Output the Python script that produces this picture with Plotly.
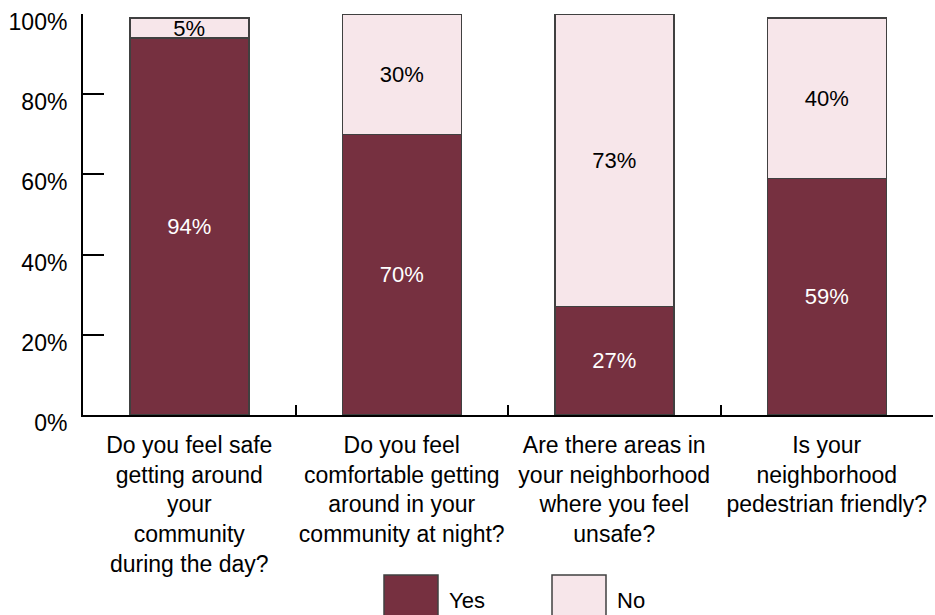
import plotly.graph_objects as go

categories = [
    "Do you feel safe<br>getting around<br>your<br>community<br>during the day?",
    "Do you feel<br>comfortable getting<br>around in your<br>community at night?",
    "Are there areas in<br>your neighborhood<br>where you feel<br>unsafe?",
    "Is your<br>neighborhood<br>pedestrian friendly?",
]
yes_values = [94, 70, 27, 59]
no_values = [5, 30, 73, 40]
series_names = ["Yes", "No"]
y_ticks = [0, 20, 40, 60, 80, 100]
y_tick_labels = [f"{v}%" for v in y_ticks]

YES_COLOR = "#763040"
NO_COLOR = "#F7E6EA"
EDGE = "#404040"
FONT = "Liberation Sans, Arial, sans-serif"
FS = 23

fig = go.Figure()
fig.add_trace(go.Bar(
    x=categories, y=yes_values, name=series_names[0],
    marker=dict(color=YES_COLOR, line=dict(color=EDGE, width=1.5)),
    width=0.56, text=[f"{v}%" for v in yes_values], texttemplate="%{text}",
    textposition="inside", insidetextanchor="middle",
    textfont=dict(color="white", size=22, family=FONT),
    showlegend=False, hoverinfo="skip",
))
fig.add_trace(go.Bar(
    x=categories, y=no_values, name=series_names[1],
    marker=dict(color=NO_COLOR, line=dict(color=EDGE, width=1.5)),
    width=0.56, text=[f"{v}%" for v in no_values], texttemplate="%{text}",
    textposition="inside", insidetextanchor="middle",
    textfont=dict(color="black", size=22, family=FONT),
    showlegend=False, hoverinfo="skip",
))

W, H = 935, 615
L, R, T, B = 83, 2, 14, 200
pw, ph = W - L - R, H - T - B


def px_x(x):
    return (x - L) / pw


def px_y(y):
    return (H - B - y) / ph


# manual legend (large swatches)
legend_items = [(series_names[0], YES_COLOR, 384, 438), (series_names[1], NO_COLOR, 552, 606)]
for name, col, x0, x1 in legend_items:
    fig.add_shape(type="rect", xref="paper", yref="paper",
                  x0=px_x(x0), x1=px_x(x1), y0=px_y(575), y1=px_y(628),
                  fillcolor=col, line=dict(color=EDGE, width=1.5))
    fig.add_annotation(xref="paper", yref="paper", x=px_x(x1 + 9), y=px_y(600),
                       text=name, showarrow=False, xanchor="left", yanchor="middle",
                       font=dict(size=22, color="black", family=FONT))

fig.update_layout(
    barmode="stack",
    width=W, height=H,
    margin=dict(l=L, r=R, t=T, b=B, autoexpand=False),
    plot_bgcolor="white", paper_bgcolor="white",
    font=dict(family=FONT, size=FS, color="black"),
    uniformtext=dict(minsize=22, mode="show"),
    bargap=0.44,
)
fig.update_yaxes(
    range=[0, 100], tickmode="array", tickvals=y_ticks, ticktext=y_tick_labels,
    ticks="inside", ticklen=21, tickwidth=2, tickcolor="black",
    showline=True, linewidth=2, linecolor="black",
    showgrid=False, zeroline=False, ticklabelstandoff=9, ticklabelshift=8,
    tickfont=dict(size=23), automargin=False,
)
fig.update_xaxes(
    ticks="inside", tickson="boundaries", ticklen=10, tickwidth=2, tickcolor="black",
    showline=True, linewidth=2, linecolor="black", showgrid=False,
    ticklabelstandoff=8, tickfont=dict(size=23), tickangle=0, automargin=False,
)

fig.write_html("out.html")
